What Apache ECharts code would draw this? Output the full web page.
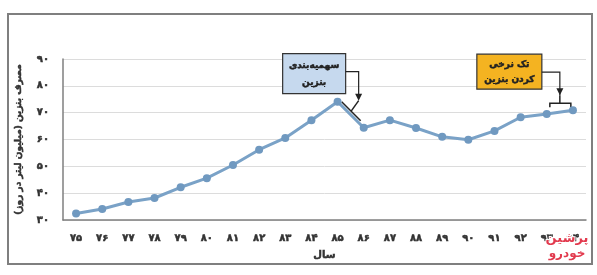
<!DOCTYPE html>
<html><head><meta charset="utf-8">
<script src="https://cdn.jsdelivr.net/npm/echarts@6/dist/echarts.min.js"></script>
<style>html,body{margin:0;padding:0;background:#fff}#c{width:597px;height:275px}</style>
</head><body><div id="c"></div><script>
// Years (Persian calendar, 13xx)
const years = ['۷۵','۷۶','۷۷','۷۸','۷۹','۸۰','۸۱','۸۲','۸۳','۸۴','۸۵','۸۶','۸۷','۸۸','۸۹','۹۰','۹۱','۹۲','۹۳','۹۴'];
// Gasoline consumption (million litres per day)
const consumption = [32.4, 34.1, 36.7, 38.2, 42.2, 45.6, 50.5, 56.2, 60.6, 67.2, 74.1, 64.4, 67.2, 64.3, 61.0, 59.9, 63.2, 68.3, 69.5, 70.9];
// Y tick values
const yTicks = [30, 40, 50, 60, 70, 80, 90];
const yTitle = 'مصرف بنزین (میلیون لیتر در روز)\u200F';
const xTitle = 'سال';
const note1 = ['سهمیه‌بندی', 'بنزین'];
const note2 = ['تک نرخی', 'کردن بنزین'];
const logo = ['پرشین', 'خودرو'];

const fa = s => String(s).replace(/\d/g, d => '۰۱۲۳۴۵۶۷۸۹'[d]);
const FONT = 'DejaVu Sans';
const boldText = (size, color) => ({fontFamily: FONT, fontWeight: 'bold', fontSize: size, color, textBorderColor: color, textBorderWidth: 0.5});

const chart = echarts.init(document.getElementById('c'), null, {renderer: 'canvas'});
chart.setOption({
  animation: false,
  backgroundColor: '#fff',
  grid: {left: 63, right: 11, top: 59, bottom: 55},
  xAxis: {
    type: 'category', data: years, boundaryGap: true,
    name: xTitle, nameLocation: 'middle', nameGap: 30,
    nameTextStyle: boldText(10, '#333'),
    axisLine: {lineStyle: {color: '#7f7f7f', width: 1.5}},
    axisTick: {show: false},
    axisLabel: Object.assign(boldText(10, '#333'), {margin: 13})
  },
  yAxis: {
    type: 'value', min: yTicks[0], max: yTicks[yTicks.length - 1], interval: 10,
    name: yTitle, nameLocation: 'middle', nameGap: 40, nameRotate: 90,
    nameTextStyle: boldText(9, '#333'),
    axisLine: {show: true, lineStyle: {color: '#7f7f7f', width: 1.5}},
    axisTick: {show: false},
    splitLine: {lineStyle: {color: '#dcdcdc', width: 1}},
    axisLabel: Object.assign(boldText(10, '#333'), {margin: 14, formatter: v => fa(v)})
  },
  series: [{
    type: 'line', data: consumption,
    symbol: 'circle', symbolSize: 8,
    lineStyle: {color: '#7aa2c7', width: 3},
    itemStyle: {color: '#7099c0'}
  }]
});

// Annotations anchored to data points
const p = i => chart.convertToPixel({xAxisIndex: 0, yAxisIndex: 0}, [i, consumption[i]]);
const a85 = p(10), a86 = p(11), a93 = p(18), a94 = p(19);
const m1 = [(a85[0] + a86[0]) / 2, (a85[1] + a86[1]) / 2];
const m2 = [(a93[0] + a94[0]) / 2, (a93[1] + a94[1]) / 2];
const ink = '#222';
function txt(x, y, s, size) {
  return {type: 'text', x, y, style: {text: s, fontFamily: FONT, fontWeight: 'bold', fontSize: size, fill: '#222', stroke: '#222', lineWidth: 0.5, align: 'center', verticalAlign: 'middle'}};
}
function box(x, y, w, h, fill, lines) {
  return [
    {type: 'rect', shape: {x, y, width: w, height: h}, style: {fill, stroke: '#333', lineWidth: 1.2}},
    txt(x + w / 2, y + h * 0.3, lines[0], 9),
    txt(x + w / 2, y + h * 0.72, lines[1], 9)
  ];
}
function arrowHead(x, y) {
  return {type: 'polygon', shape: {points: [[x - 3.5, y - 7], [x + 3.5, y - 7], [x, y]]}, style: {fill: ink}};
}
const g = [];
// border
g.push({type: 'rect', shape: {x: 8, y: 14, width: 584, height: 250}, style: {fill: 'none', stroke: '#7f7f7f', lineWidth: 2}, z: 10});
// note 1
const b1x = m1[0] - 68, b1y = m1[1] - 61;
g.push(...box(b1x, b1y, 63, 40, '#c6d9ee', note1));
const t1 = [m1[0] + 8, m1[1] - 14];
g.push({type: 'polyline', shape: {points: [[b1x + 63, b1y + 18], [t1[0], b1y + 18], [t1[0], t1[1] - 2]]}, style: {stroke: ink, lineWidth: 1.2, fill: 'none'}});
g.push(arrowHead(t1[0], t1[1]));
g.push({type: 'polyline', shape: {points: [[m1[0] - 9, m1[1] - 13], [m1[0] + 10, m1[1] + 6]]}, style: {stroke: ink, lineWidth: 1.5, fill: 'none'}});
g.push({type: 'polyline', shape: {points: [[m1[0] + 0.5, m1[1] - 3.5], [t1[0], t1[1]]]}, style: {stroke: ink, lineWidth: 1.5, fill: 'none'}});
// note 2
const b2x = m2[0] - 83, b2y = m2[1] - 58;
g.push(...box(b2x, b2y, 65, 35, '#f4b321', note2));
const t2 = [m2[0], m2[1] - 17];
g.push({type: 'polyline', shape: {points: [[b2x + 65, b2y + 18], [t2[0], b2y + 18], [t2[0], t2[1]]]}, style: {stroke: ink, lineWidth: 1.2, fill: 'none'}});
g.push(arrowHead(t2[0], t2[1]));
g.push({type: 'polyline', shape: {points: [[m2[0] - 10, m2[1] - 5], [m2[0] - 10, m2[1] - 9], [m2[0] + 11, m2[1] - 9], [m2[0] + 11, m2[1] - 5]]}, style: {stroke: ink, lineWidth: 1.5, fill: 'none'}});
g.push({type: 'polyline', shape: {points: [[t2[0], t2[1]], [t2[0], m2[1] - 9]]}, style: {stroke: ink, lineWidth: 1.5, fill: 'none'}});
// logo
g.push({type: 'text', x: 567, y: 239, z: 20, style: {text: logo[0], fontFamily: FONT, fontWeight: 'bold', fontSize: 13, fill: '#e23a4e', stroke: '#fff', lineWidth: 2, align: 'center', verticalAlign: 'middle'}});
g.push({type: 'text', x: 567, y: 254, z: 20, style: {text: logo[1], fontFamily: FONT, fontWeight: 'bold', fontSize: 12, fill: '#e23a4e', stroke: '#fff', lineWidth: 2, align: 'center', verticalAlign: 'middle'}});
chart.setOption({graphic: g});
</script></body></html>
